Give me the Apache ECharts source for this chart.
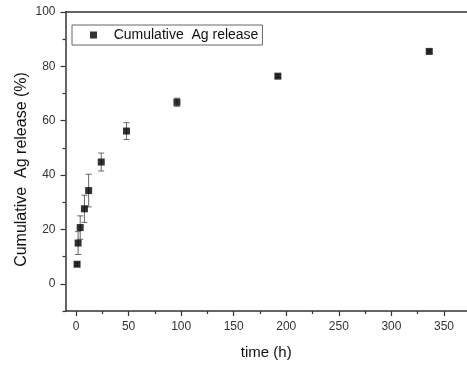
<!DOCTYPE html>
<html><head><meta charset="utf-8">
<script src="https://cdn.jsdelivr.net/npm/echarts@6/dist/echarts.min.js"></script>
<style>html,body{margin:0;padding:0;background:#fff}#c{width:467px;height:366px}</style>
</head><body><div id="c"></div>
<script>
var timeH = [1, 2, 4, 8, 12, 24, 48, 96, 192, 336];
var release = [7.2, 15.0, 20.7, 27.6, 34.3, 44.8, 56.2, 66.8, 76.4, 85.5];
var errors = [0.5, 4.2, 4.3, 5.0, 6.0, 3.3, 3.1, 1.5, 0.5, 0.5];
var xTicks = [0, 50, 100, 150, 200, 250, 300, 350];
var xMinor = [25, 75, 125, 175, 225, 275, 325];
var yTicks = [0, 20, 40, 60, 80, 100];
var yMinor = [-10, 10, 30, 50, 70, 90];
var seriesName = 'Cumulative  Ag release';

var FONT = 'Liberation Sans, Arial, sans-serif';
var axisCol = '#333';
var chart = echarts.init(document.getElementById('c'));
var pts = timeH.map(function (t, i) { return [t, release[i]]; });
var errData = timeH.map(function (t, i) { return [t, release[i] - errors[i], release[i] + errors[i]]; });

chart.setOption({
  animation: false,
  grid: { left: 65.5, right: 0, top: 12, bottom: 55 },
  legend: {
    left: 72, top: 25, padding: [3, 4, 3, 18],
    borderColor: '#666', borderWidth: 1,
    itemWidth: 7, itemHeight: 7,
    formatter: function (n) { return '   ' + n; },
    textStyle: { fontFamily: FONT, fontSize: 14, color: '#111' },
    data: [{ name: seriesName, icon: 'rect' }]
  },
  xAxis: [{
    type: 'value', min: -10, max: 371.9,
    name: 'time (h)', nameLocation: 'middle', nameGap: 34, nameMoveOverlap: false,
    nameTextStyle: { fontFamily: FONT, fontSize: 15, color: '#111' },
    axisLine: { show: true, onZero: false, lineStyle: { color: axisCol, width: 1.5 } },
    axisTick: { show: true, inside: false, length: 5, customValues: xTicks, lineStyle: { color: axisCol, width: 1.2 } },
    axisLabel: { customValues: xTicks, margin: 10, fontFamily: FONT, fontSize: 12, color: '#333' },
    splitLine: { show: false }
  }, {
    type: 'value', min: -10, max: 371.9, position: 'bottom',
    axisLine: { show: false, onZero: false },
    axisTick: { show: true, inside: false, length: 3, customValues: xMinor, lineStyle: { color: axisCol, width: 1.2 } },
    axisLabel: { show: false }, splitLine: { show: false }
  }, {
    type: 'value', min: -10, max: 371.9, position: 'top',
    axisLine: { show: true, onZero: false, lineStyle: { color: axisCol, width: 1.5 } },
    axisTick: { show: false }, axisLabel: { show: false }, splitLine: { show: false }
  }],
  yAxis: [{
    type: 'value', min: -10, max: 100,
    name: 'Cumulative  Ag release (%)', nameLocation: 'middle', nameGap: 36, nameRotate: 90, nameMoveOverlap: false,
    nameTextStyle: { fontFamily: FONT, fontSize: 16, color: '#111', padding: [0, 16, 0, 0] },
    axisLine: { show: true, onZero: false, lineStyle: { color: axisCol, width: 1.5 } },
    axisTick: { show: true, inside: false, length: 5, customValues: yTicks, lineStyle: { color: axisCol, width: 1.2 } },
    axisLabel: { customValues: yTicks, margin: 10, fontFamily: FONT, fontSize: 12, color: '#333' },
    splitLine: { show: false }
  }, {
    type: 'value', min: -10, max: 100, position: 'left',
    axisLine: { show: false, onZero: false },
    axisTick: { show: true, inside: false, length: 3, customValues: yMinor, lineStyle: { color: axisCol, width: 1.2 } },
    axisLabel: { show: false }, splitLine: { show: false }
  }],
  series: [{
    type: 'custom', name: 'err', silent: true, z: 1,
    renderItem: function (params, api) {
      var x = api.value(0);
      var lo = api.coord([x, api.value(1)]);
      var hi = api.coord([x, api.value(2)]);
      var w = 3;
      var st = { stroke: '#666', lineWidth: 1 };
      return { type: 'group', children: [
        { type: 'line', shape: { x1: lo[0], y1: lo[1], x2: hi[0], y2: hi[1] }, style: st },
        { type: 'line', shape: { x1: lo[0] - w, y1: lo[1], x2: lo[0] + w, y2: lo[1] }, style: st },
        { type: 'line', shape: { x1: hi[0] - w, y1: hi[1], x2: hi[0] + w, y2: hi[1] }, style: st }
      ] };
    },
    encode: { x: 0, y: [1, 2] },
    data: errData
  }, {
    type: 'scatter', name: seriesName, z: 3,
    symbol: 'rect', symbolSize: 7,
    itemStyle: { color: '#000' },
    data: pts
  }]
});
</script></body></html>
